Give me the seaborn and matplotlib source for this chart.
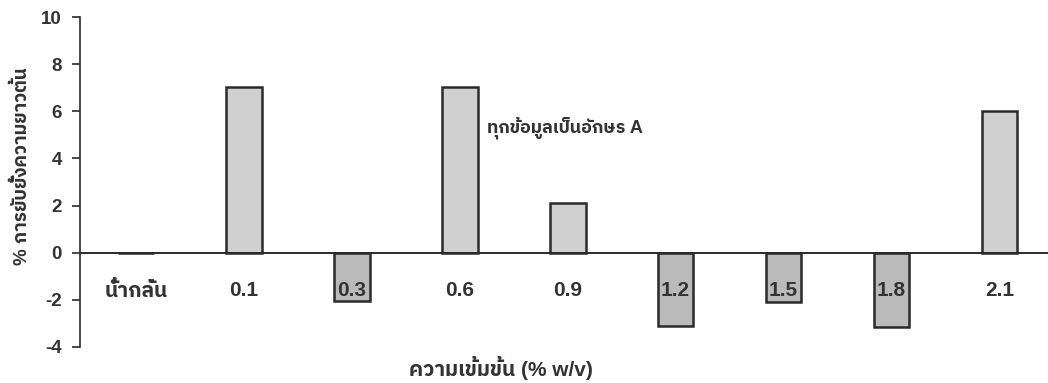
import matplotlib
matplotlib.use("Agg")
import matplotlib.pyplot as plt
import seaborn as sns
import pandas as pd

# Stem-length inhibition by concentration
categories = ["น้ำกลั่น", "0.1", "0.3", "0.6", "0.9", "1.2", "1.5", "1.8", "2.1"]
inhibition = [0.0, 7.05, -2.05, 7.05, 2.1, -3.1, -2.1, -3.15, 6.0]
y_ticks = [-4, -2, 0, 2, 4, 6, 8, 10]
note = "ทุกข้อมูลเป็นอักษร A"
x_title = "ความเข้มข้น (% w/v)"
y_title = "% การยับยั้งความยาวต้น"

sns.set_theme(style="white")
plt.rcParams["font.family"] = ["Liberation Sans", "IBM Plex Sans Thai"]
plt.rcParams["font.weight"] = "bold"
text_color = "#333333"

df = pd.DataFrame({"conc": categories, "value": inhibition})
colors = ["#d0d0d0" if v >= 0 else "#bababa" for v in inhibition]

fig = plt.figure(figsize=(10.48, 3.83), dpi=100)
ax = fig.add_axes([0.0763, 0.094, 0.9237, 0.8616])

sns.barplot(data=df, x="conc", y="value", hue="conc", palette=colors,
            legend=False, width=0.33, edgecolor="#2a2a2a", linewidth=1.8,
            ax=ax, saturation=1)

ax.set_xlim(-0.52, 8.45)
ax.set_ylim(-4, 10)
ax.set_yticks(y_ticks)
ax.set_yticklabels([str(t) for t in y_ticks], fontsize=13.5, color=text_color,
                   fontweight="bold")
ax.tick_params(axis="y", direction="out", length=6, width=1.2,
               color="#2a2a2a", pad=7, left=True)
ax.set_xticks([])
ax.set_xlabel("")
ax.set_ylabel("")

for side in ("top", "right", "bottom"):
    ax.spines[side].set_visible(False)
ax.spines["left"].set_color("#2a2a2a")
ax.spines["left"].set_linewidth(1.2)

# zero baseline across the plot
ax.axhline(0, color="#2a2a2a", linewidth=1.4, zorder=3)

# category labels sitting just below the baseline
for i, lab in enumerate(categories):
    ax.text(i, -1.62, lab, ha="center", va="center", fontsize=15,
            fontweight="bold", color=text_color, zorder=4)

ax.text(3.25, 5.3, note, ha="left", va="center", fontsize=13,
        fontweight="bold", color=text_color)

fig.text(0.478, 0.04, x_title, ha="center", va="center", fontsize=15,
         fontweight="bold", color=text_color)
fig.text(0.021, 0.567, y_title, ha="center", va="center", rotation=90,
         fontsize=13.5, fontweight="bold", color=text_color)

fig.savefig("out.png", dpi=100)
